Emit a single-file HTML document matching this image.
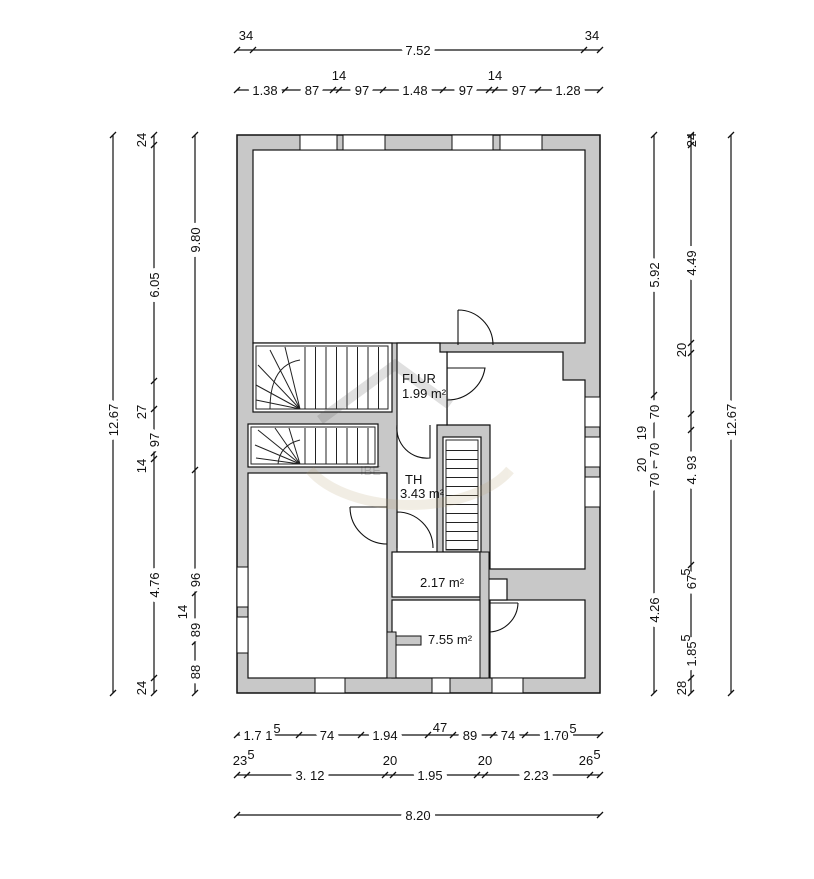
<!DOCTYPE html>
<html><head><meta charset="utf-8"><style>
html,body{margin:0;padding:0;background:#fff}
svg{display:block}
text{font-family:"Liberation Sans",sans-serif;font-size:13px;fill:#111}
.d{stroke:#fff;stroke-width:10;stroke-linejoin:round;paint-order:stroke}
.d tspan{stroke:none}
</style></head><body>
<svg width="814" height="879" viewBox="0 0 814 879" xmlns="http://www.w3.org/2000/svg">
<defs>
<pattern id="vt" width="10.5" height="10" patternUnits="userSpaceOnUse"><line x1="0.5" y1="0" x2="0.5" y2="10" stroke="#222" stroke-width="1"/></pattern>
<pattern id="ht" width="10" height="9" patternUnits="userSpaceOnUse"><line x1="0" y1="0.5" x2="10" y2="0.5" stroke="#222" stroke-width="1"/></pattern>
</defs>
<g stroke="#111" stroke-width="1.2" fill="none">
<line x1="237" y1="50" x2="600" y2="50"/>
<line x1="237" y1="90" x2="600" y2="90"/>
<line x1="237" y1="735" x2="600" y2="735"/>
<line x1="237" y1="775" x2="600" y2="775"/>
<line x1="237" y1="815" x2="600" y2="815"/>
<line x1="113" y1="135" x2="113" y2="693"/>
<line x1="154" y1="135" x2="154" y2="693"/>
<line x1="195" y1="135" x2="195" y2="693"/>
<line x1="654" y1="135" x2="654" y2="693"/>
<line x1="691" y1="135" x2="691" y2="693"/>
<line x1="731" y1="135" x2="731" y2="693"/>
</g>
<g stroke="#111" stroke-width="1.3">
<path d="M234,53 l6,-6 M250,53 l6,-6 M581,53 l6,-6 M597,53 l6,-6
M234,93 l6,-6 M282,93 l6,-6 M330,93 l6,-6 M336,93 l6,-6 M380,93 l6,-6 M440,93 l6,-6 M486,93 l6,-6 M492,93 l6,-6 M535,93 l6,-6 M597,93 l6,-6
M234,738 l6,-6 M296,738 l6,-6 M358,738 l6,-6 M425,738 l6,-6 M450,738 l6,-6 M490,738 l6,-6 M522,738 l6,-6 M597,738 l6,-6
M234,778 l6,-6 M244,778 l6,-6 M382,778 l6,-6 M390,778 l6,-6 M474,778 l6,-6 M482,778 l6,-6 M587,778 l6,-6 M597,778 l6,-6
M234,818 l6,-6 M597,818 l6,-6
M110,138 l6,-6 M110,696 l6,-6
M151,138 l6,-6 M151,148 l6,-6 M151,384 l6,-6 M151,412 l6,-6 M151,456 l6,-6 M151,462 l6,-6 M151,681 l6,-6 M151,696 l6,-6
M192,138 l6,-6 M192,473 l6,-6 M192,590 l6,-6 M192,596 l6,-6 M192,645 l6,-6 M192,696 l6,-6
M651,138 l6,-6 M651,398 l6,-6 M651,473 l6,-6 M651,696 l6,-6
M688,138 l6,-6 M688,148 l6,-6 M688,346 l6,-6 M688,356 l6,-6 M688,417 l6,-6 M688,433 l6,-6 M688,568 l6,-6 M688,681 l6,-6 M688,696 l6,-6
M728,138 l6,-6 M728,696 l6,-6"/>
</g>
<g text-anchor="middle">
<text x="246" y="40" font-size="14">34</text><text x="592" y="40" font-size="14">34</text>
<text x="418" y="55" class="d" font-size="15">7.52</text>
<text x="265" y="95" class="d" font-size="14">1.38</text><text x="312" y="95" class="d" font-size="14">87</text>
<text x="339" y="80" font-size="14">14</text><text x="362" y="95" class="d" font-size="14">97</text>
<text x="415" y="95" class="d" font-size="14">1.48</text><text x="466" y="95" class="d" font-size="14">97</text>
<text x="495" y="80" font-size="14">14</text><text x="519" y="95" class="d" font-size="14">97</text>
<text x="568" y="95" class="d" font-size="14">1.28</text>
<text x="258" y="740" class="d" font-size="15">1.7 1</text><text x="277" y="733" font-size="10">5</text>
<text x="327" y="740" class="d" font-size="15">74</text>
<text x="385" y="740" class="d" font-size="15">1.94</text>
<text x="440" y="732" font-size="15">47</text>
<text x="470" y="740" class="d" font-size="15">89</text>
<text x="508" y="740" class="d" font-size="15">74</text>
<text x="556" y="740" class="d" font-size="15">1.70</text><text x="573" y="733" font-size="10">5</text>
<text x="240" y="765" font-size="15">23</text><text x="251" y="759" font-size="10">5</text>
<text x="310" y="780" class="d" font-size="15">3. 12</text>
<text x="390" y="765" font-size="15">20</text>
<text x="430" y="780" class="d" font-size="15">1.95</text>
<text x="485" y="765" font-size="15">20</text>
<text x="536" y="780" class="d" font-size="15">2.23</text>
<text x="586" y="765" font-size="15">26</text><text x="597" y="759" font-size="10">5</text>
<text x="418" y="820" class="d" font-size="14">8.20</text>
</g>
<g text-anchor="middle" font-size="14">
<text transform="translate(118,420) rotate(-90)" class="d" font-size="14">12.67</text>
<text transform="translate(146,140) rotate(-90)" font-size="14">24</text>
<text transform="translate(159,285) rotate(-90)" class="d" font-size="14">6.05</text>
<text transform="translate(146,412) rotate(-90)" font-size="14">27</text>
<text transform="translate(159,440) rotate(-90)" class="d" font-size="14">97</text>
<text transform="translate(146,466) rotate(-90)" font-size="14">14</text>
<text transform="translate(159,585) rotate(-90)" class="d" font-size="14">4.76</text>
<text transform="translate(146,688) rotate(-90)" font-size="14">24</text>
<text transform="translate(200,240) rotate(-90)" class="d" font-size="14">9.80</text>
<text transform="translate(187,612) rotate(-90)" font-size="14">14</text>
<text transform="translate(200,580) rotate(-90)" class="d" font-size="14">96</text>
<text transform="translate(200,630) rotate(-90)" class="d" font-size="14">89</text>
<text transform="translate(200,672) rotate(-90)" class="d" font-size="14">88</text>
<text transform="translate(659,275) rotate(-90)" class="d" font-size="14">5.92</text>
<text transform="translate(659,480) rotate(-90)" class="d" font-size="14">70</text>
<text transform="translate(646,465) rotate(-90)" font-size="14">20</text>
<text transform="translate(659,610) rotate(-90)" class="d" font-size="14">4.26</text>
<text transform="translate(686,688) rotate(-90)" font-size="14">28</text>
<text transform="translate(659,450) rotate(-90)" class="d" font-size="14">70</text>
<text transform="translate(646,433) rotate(-90)" font-size="14">19</text>
<text transform="translate(659,412) rotate(-90)" class="d" font-size="14">70</text>
<text transform="translate(696,140) rotate(-90)" font-size="14">24</text>
<text transform="translate(696,263) rotate(-90)" class="d" font-size="14">4.49</text>
<text transform="translate(686,350) rotate(-90)" font-size="14">20</text>
<text transform="translate(696,470) rotate(-90)" class="d" font-size="14">4. 93</text>
<text transform="translate(696,582) rotate(-90)" class="d" font-size="14">67</text>
<text transform="translate(690,572) rotate(-90)" font-size="10">5</text>
<text transform="translate(696,654) rotate(-90)" class="d" font-size="14">1.85</text>
<text transform="translate(690,638) rotate(-90)" font-size="10">5</text>
<text transform="translate(736,420) rotate(-90)" class="d" font-size="14">12.67</text>
</g>
<rect x="237" y="135" width="363" height="558" fill="#c8c8c8" stroke="#111" stroke-width="1.5"/>
<g fill="#fff" stroke="#111" stroke-width="1.2">
<rect x="253" y="150" width="332" height="193"/>
<path d="M447,352 L563,352 L563,380 L585,380 L585,569 L490,569 L490,425 L447,425 Z"/>
<rect x="253" y="343" width="139" height="69"/>
<rect x="248" y="424" width="130" height="43"/>
<path d="M397,343 L440,343 L440,352 L447,352 L447,425 L437,425 L437,552 L397,552 L397,425 L397,343Z"/>
<rect x="443" y="437" width="38" height="115"/>
<rect x="248" y="473" width="139" height="205"/>
<rect x="392" y="552" width="88" height="45"/>
<path d="M392,600 L487,600 L487,678 L450,678 L450,678 L392,678 Z"/>
<rect x="490" y="600" width="95" height="78"/>
<rect x="487" y="579" width="20" height="21"/>
</g>
<rect x="387" y="632" width="9" height="46" fill="#c8c8c8" stroke="#111"/>
<rect x="396" y="636" width="25" height="9" fill="#c8c8c8" stroke="#111"/>
<rect x="480" y="552" width="9" height="126" fill="#c8c8c8" stroke="#111"/>
<g fill="#fff" stroke="#111" stroke-width="1">
<rect x="300" y="135" width="37" height="15"/><rect x="343" y="135" width="42" height="15"/>
<rect x="452" y="135" width="41" height="15"/><rect x="500" y="135" width="42" height="15"/>
<rect x="315" y="678" width="30" height="15"/><rect x="432" y="678" width="18" height="15"/><rect x="492" y="678" width="31" height="15"/>
<rect x="237" y="567" width="11" height="40"/><rect x="237" y="617" width="11" height="36"/>
<rect x="585" y="397" width="15" height="30"/><rect x="585" y="437" width="15" height="30"/><rect x="585" y="477" width="15" height="30"/>
</g>
<rect x="300" y="347" width="85" height="62" fill="url(#vt)"/>
<rect x="300" y="428" width="75" height="36" fill="url(#vt)"/>
<rect x="446" y="450" width="32" height="100" fill="url(#ht)"/>
<g stroke="#222" fill="none" stroke-width="1">
<rect x="256" y="346" width="132" height="63"/>
<rect x="251" y="427" width="124" height="37"/>
<rect x="446" y="440" width="32" height="110"/>
<path d="M300,409 L270,350 M300,409 L258,365 M300,409 L256,385 M300,409 L256,400 M300,409 L285,347"/>
<path d="M300,464 L258,430 M300,464 L255,445 M300,464 L275,428 M300,464 L289,428 M300,464 L256,458"/>
<path d="M300,360 Q270,365 270,409 M300,440 Q280,445 278,464"/>
</g>
<g stroke="#111" fill="none" stroke-width="1.1">
<path d="M458,310 L458,345 M458,310 A35,35 0 0 1 493,345"/>
<path d="M447,368 L485,368 A38,38 0 0 1 447,400"/>
<path d="M397,425 A30,30 0 0 0 430,458 L430,425"/>
<path d="M350,507 L387,507 M350,507 A37,37 0 0 0 387,544"/>
<path d="M397,512 A36,36 0 0 1 433,548 M397,512 L397,548"/>
<path d="M518,603 A30,30 0 0 1 490,632 M490,603 L518,603"/>
</g>
<g opacity="0.18" fill="none" stroke="#555" stroke-width="10">
<path d="M320,420 L395,365 L450,405"/>
<path d="M310,470 A110,60 0 0 0 510,470" stroke="#b8a070"/>
</g>
<text x="360" y="475" font-size="55" fill="#888" opacity="0.18">IBE</text>
<g font-size="11">
<text x="402" y="383" font-size="13">FLUR</text>
<text x="402" y="398" font-size="10">1.99 m²</text>
<text x="405" y="484" font-size="13">TH</text>
<text x="400" y="498" font-size="10">3.43 m²</text>
<text x="420" y="587" font-size="10">2.17 m²</text>
<text x="428" y="644" font-size="10">7.55 m²</text>
</g>
</svg>
</body></html>
